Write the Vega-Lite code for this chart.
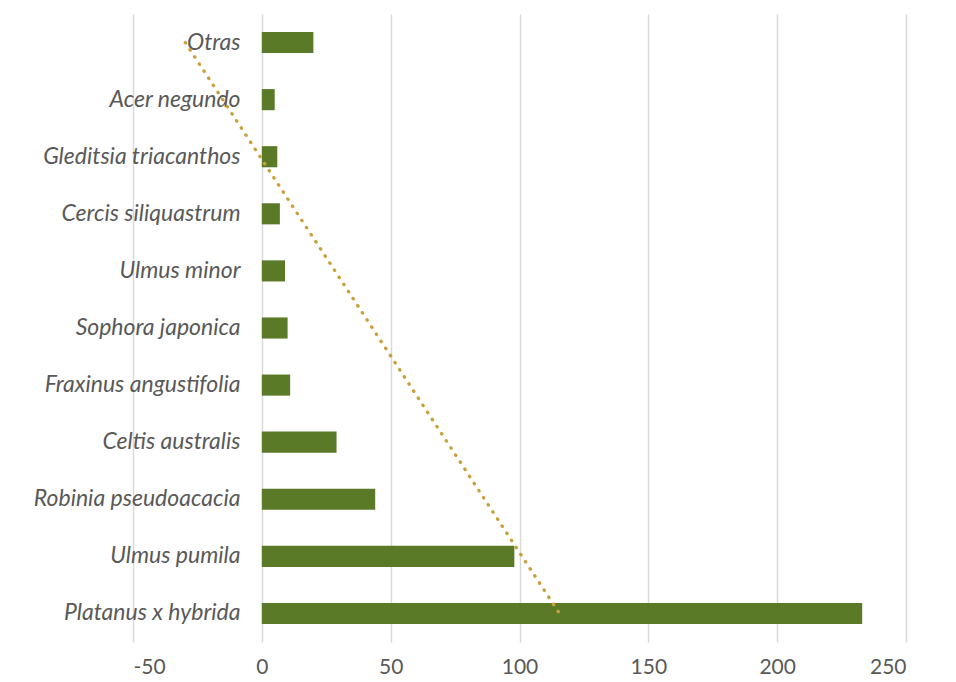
{
  "$schema": "https://vega.github.io/schema/vega-lite/v6.json",
  "autosize": {"type": "none"},
  "width": 773,
  "height": 628,
  "padding": {"left": 133, "top": 14, "right": 50, "bottom": 40},
  "background": "white",
  "config": {"view": {"stroke": null}, "font": "Lato"},
  "datasets": {
    "trees": [
      {"species": "Otras", "count": 20},
      {"species": "Acer negundo", "count": 5},
      {"species": "Gleditsia triacanthos", "count": 6},
      {"species": "Cercis siliquastrum", "count": 7},
      {"species": "Ulmus minor", "count": 9},
      {"species": "Sophora japonica", "count": 10},
      {"species": "Fraxinus angustifolia", "count": 11},
      {"species": "Celtis australis", "count": 29},
      {"species": "Robinia pseudoacacia", "count": 44},
      {"species": "Ulmus pumila", "count": 98},
      {"species": "Platanus x hybrida", "count": 233}
    ],
    "trend": [
      {"species": "Otras", "trend": -29.7},
      {"species": "Platanus x hybrida", "trend": 115.5}
    ]
  },
  "layer": [
    {
      "data": {"name": "trees"},
      "mark": {"type": "bar", "color": "#5b7a28"},
      "encoding": {
        "y": {
          "field": "species", "type": "nominal", "sort": null,
          "scale": {"paddingInner": 0.63, "paddingOuter": 0.315},
          "axis": {
            "title": null, "domain": false, "ticks": false, "tickSize": 0,
            "labelPadding": -107, "labelAlign": "right",
            "labelFont": "Lato", "labelFontStyle": "italic", "labelFontSize": 23,
            "labelColor": "#595959", "labelLimit": 400
          }
        },
        "x": {
          "field": "count", "type": "quantitative",
          "scale": {"domain": [-50, 250], "nice": false, "zero": false},
          "axis": {
            "title": null, "values": [-50, 0, 50, 100, 150, 200, 250],
            "labelExpr": "datum.value + ''",
            "domain": false, "ticks": false, "labelPadding": 14,
            "labelFontSize": 21, "labelColor": "#595959", "labelFont": "Lato",
            "grid": true, "gridColor": "#d9d9d9", "gridWidth": 1.5
          }
        }
      }
    },
    {
      "data": {"name": "trend"},
      "mark": {"type": "line", "color": "#c9a03a", "strokeWidth": 3.3, "strokeDash": [0.5, 8], "strokeCap": "round"},
      "encoding": {
        "y": {"field": "species", "type": "nominal", "sort": null},
        "x": {"field": "trend", "type": "quantitative"}
      }
    }
  ]
}
